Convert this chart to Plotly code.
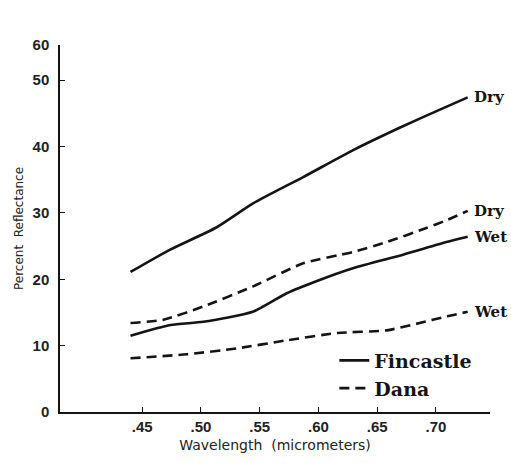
import plotly.graph_objects as go

# Wavelength (micrometers) and percent reflectance
fin_dry_x = [0.440, 0.473, 0.513, 0.544, 0.587, 0.630, 0.670, 0.700, 0.727]
fin_dry_y = [21.1, 24.4, 27.8, 31.4, 35.4, 39.5, 42.9, 45.3, 47.4]

dana_dry_x = [0.440, 0.468, 0.502, 0.544, 0.587, 0.629, 0.658, 0.690, 0.709, 0.727]
dana_dry_y = [13.4, 13.9, 15.9, 18.9, 22.4, 24.1, 25.6, 27.6, 28.9, 30.3]

fin_wet_x = [0.440, 0.474, 0.502, 0.544, 0.573, 0.601, 0.630, 0.672, 0.709, 0.727]
fin_wet_y = [11.5, 13.1, 13.6, 15.1, 17.9, 19.9, 21.7, 23.7, 25.6, 26.4]

dana_wet_x = [0.440, 0.488, 0.531, 0.573, 0.616, 0.658, 0.686, 0.709, 0.727]
dana_wet_y = [8.1, 8.7, 9.6, 10.8, 11.9, 12.3, 13.4, 14.4, 15.1]

x_tickvals = [0.45, 0.50, 0.55, 0.60, 0.65, 0.70]
x_ticktext = [".45", ".50", ".55", ".60", ".65", ".70"]
y_tickvals = [0, 10, 20, 30, 40, 50, 55.3]
y_ticktext = ["0", "10", "20", "30", "40", "50", "60"]

INK = "#141414"
SERIF = "DejaVu Serif"
SANS = "Liberation Sans"
WIDE_SANS = "DejaVu Sans"

fig = go.Figure()

series = [
    (fin_dry_x, fin_dry_y, "solid", "Fincastle", True, "Dry"),
    (dana_dry_x, dana_dry_y, "10px,6px", "Dana", True, "Dry"),
    (fin_wet_x, fin_wet_y, "solid", "Fincastle", False, "Wet"),
    (dana_wet_x, dana_wet_y, "10px,6px", "Dana", False, "Wet"),
]
order = [0, 2, 1, 3]
for i in order:
    xs, ys, dash, name, show, lab = series[i]
    fig.add_trace(go.Scatter(
        x=xs, y=ys, mode="lines", name=name, showlegend=show,
        line=dict(color=INK, width=2.6, dash=dash, shape="spline", smoothing=0.6),
    ))
    fig.add_annotation(
        x=xs[-1], y=ys[-1], xref="x", yref="y", text=lab, showarrow=False,
        xanchor="left", yanchor="middle", xshift=4,
        font=dict(family=SERIF, size=15, color=INK, weight="bold"),
    )

fig.update_layout(
    width=511, height=463,
    margin=dict(l=60, r=21, t=45, b=51),
    paper_bgcolor="white", plot_bgcolor="white",
    showlegend=True,
    legend=dict(
        x=0.638, y=0.192, xanchor="left", yanchor="top",
        bgcolor="rgba(0,0,0,0)",
        font=dict(family=SERIF, size=19, color=INK, weight="bold"),
        itemwidth=30, tracegroupgap=0,
    ),
    xaxis=dict(
        range=[0.380, 0.746], showgrid=False, zeroline=False,
        showline=True, linecolor=INK, linewidth=1.5,
        ticks="inside", ticklen=5, tickwidth=1.2, tickcolor=INK,
        tickvals=x_tickvals, ticktext=x_ticktext,
        tickfont=dict(family=SANS, size=15, color="#222", weight="bold"),
        title=dict(text="Wavelength  (micrometers)", standoff=6,
                   font=dict(family=WIDE_SANS, size=14, color="#222")),
    ),
    yaxis=dict(
        range=[0, 55.3], showgrid=False, zeroline=False,
        showline=True, linecolor=INK, linewidth=1.5,
        ticks="inside", ticklen=5, tickwidth=1.2, tickcolor=INK,
        tickvals=y_tickvals, ticktext=y_ticktext,
        ticklabelstandoff=6,
        tickfont=dict(family=SANS, size=15, color="#222", weight="bold"),
        title=dict(text="Percent  Reflectance", standoff=6,
                   font=dict(family=WIDE_SANS, size=12, color="#222")),
    ),
)

fig.write_html("out.html")
